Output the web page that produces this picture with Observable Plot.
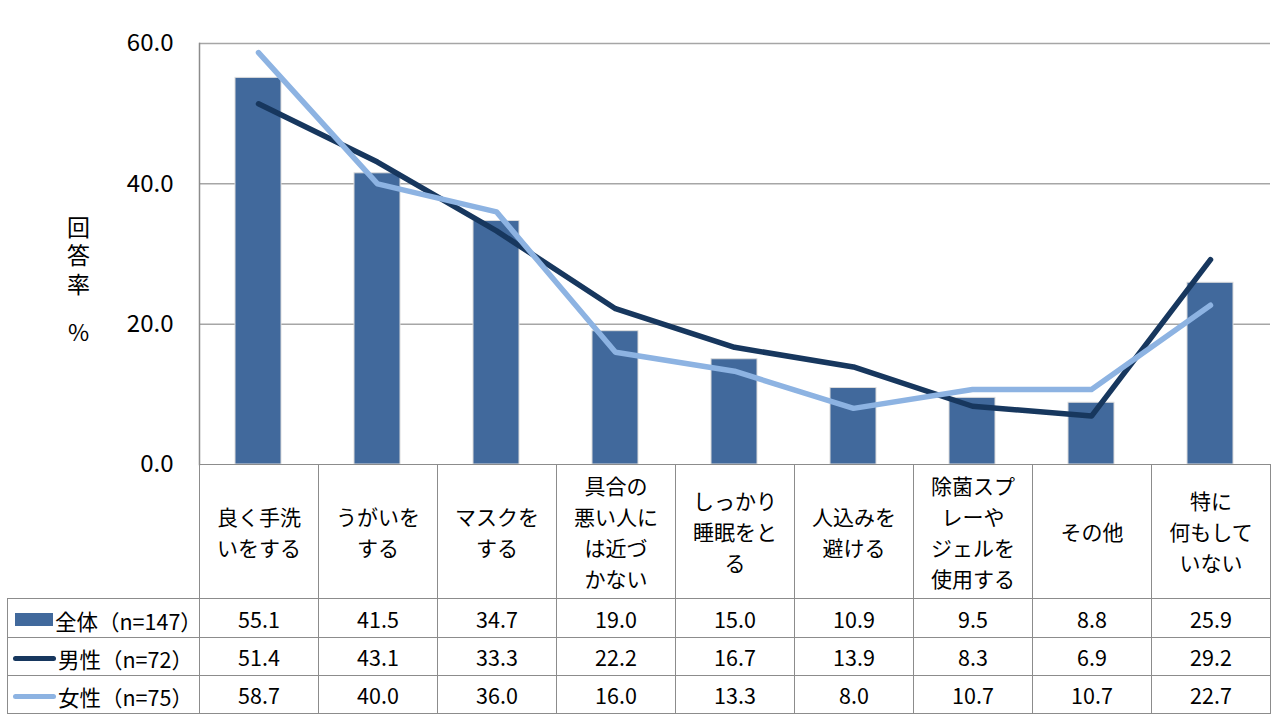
<!DOCTYPE html>
<html><head><meta charset="utf-8">
<script src="https://cdn.jsdelivr.net/npm/d3@7"></script>
<script src="https://cdn.jsdelivr.net/npm/@observablehq/plot@0.6"></script>
<style>
  html,body{margin:0;padding:0;background:#fff;}
  #wrap{position:relative;width:1280px;height:723px;overflow:hidden;font-family:"Noto Sans CJK JP","Noto Sans",sans-serif;color:#000;}
  #chart{position:absolute;left:0;top:0;}
  table{position:absolute;border-collapse:collapse;table-layout:fixed;font-family:"Noto Sans CJK JP",sans-serif;}
  td{border:1.5px solid #8c8c8c;text-align:center;padding:0;font-size:21.5px;}
  td.hdr{font-size:21px;line-height:31px;vertical-align:middle;}
  td.blank{border-top:none;border-left:none;border-bottom:1.5px solid #8c8c8c;}
  td.lab{text-align:left;padding-left:6px;white-space:nowrap;font-size:21.5px;}
  .sw{display:inline-block;vertical-align:middle;margin-right:2px;}
</style></head>
<body><div id="wrap"><div id="chart"></div></div>
<script>
const categories = ["良く手洗\nいをする","うがいを\nする","マスクを\nする","具合の\n悪い人に\nは近づ\nかない","しっかり\n睡眠をと\nる","人込みを\n避ける","除菌スプ\nレーや\nジェルを\n使用する","その他","特に\n何もして\nいない"];
const totalValues = [55.1,41.5,34.7,19.0,15.0,10.9,9.5,8.8,25.9];
const maleValues  = [51.4,43.1,33.3,22.2,16.7,13.9,8.3,6.9,29.2];
const femaleValues= [58.7,40.0,36.0,16.0,13.3,8.0,10.7,10.7,22.7];
const seriesNames = ["全体（n=147）","男性（n=72）","女性（n=75）"];
const yTicks = [0,20,40,60];
const yLabel = "回答率";
const yUnit = "%";

const colors = {total:"#41699c", male:"#17375e", female:"#8db3e2"};
const data = categories.map((c,i)=>({cat:c,total:totalValues[i],male:maleValues[i],female:femaleValues[i]}));

const chart = Plot.plot({
  width:1280, height:465,
  marginLeft:199, marginRight:10, marginTop:43, marginBottom:1,
  style:{fontFamily:'"Noto Sans CJK JP",sans-serif', fontSize:"24px", color:"#000", background:"#fff", overflow:"visible"},
  x:{type:"band", domain:categories, paddingInner:0.61, paddingOuter:0.305, axis:null},
  y:{domain:[0,60], ticks:yTicks, tickFormat:d=>d.toFixed(1), tickSize:0, tickPadding:26, label:null},
  marks:[
    Plot.gridY(yTicks.filter(d=>d>0), {stroke:"#a6a6a6", strokeOpacity:1, strokeWidth:1.5}),
    Plot.frame({anchor:"left", stroke:"#8c8c8c", strokeWidth:1.5}),
    Plot.barY(data, {x:"cat", y:"total", fill:colors.total, stroke:"#dcdcdc", strokeWidth:1}),
    Plot.line(data, {x:"cat", y:"male", stroke:colors.male, strokeWidth:5.5, strokeLinecap:"round", strokeLinejoin:"round"}),
    Plot.line(data, {x:"cat", y:"female", stroke:colors.female, strokeWidth:5.5, strokeLinecap:"round", strokeLinejoin:"round"}),
    Plot.text([yLabel], {frameAnchor:"left", dx:-121, dy:-3, textAnchor:"middle", fontSize:23, className:"ylab"}),
    Plot.text([yUnit], {frameAnchor:"left", dx:-121, dy:80, textAnchor:"middle", fontSize:23})
  ]
});
d3.select(chart).selectAll(".ylab text")
  .style("writing-mode","vertical-rl").style("letter-spacing","5.5px").attr("dy",null);
document.getElementById("chart").appendChild(chart);

// data table beneath, aligned to the chart's x scale
const xs = chart.scale("x");
const step = xs.step;
const left0 = 199;
const labelW = left0 - 7;
const wrap = d3.select("#wrap");
const table = wrap.append("table").style("left","7px").style("top","464px")
  .style("width",(labelW + step*categories.length)+"px");
const cg = table.append("colgroup");
cg.append("col").style("width",labelW+"px");
categories.forEach(()=>cg.append("col").style("width",step+"px"));

const hr = table.append("tr").style("height","134px");
hr.append("td").attr("class","blank");
categories.forEach(c=>hr.append("td").attr("class","hdr").html(c.split("\n").join("<br>")));

const rows = [
  {name:seriesNames[0], vals:totalValues, key:"total"},
  {name:seriesNames[1], vals:maleValues, key:"male"},
  {name:seriesNames[2], vals:femaleValues, key:"female"}
];
rows.forEach((r,i)=>{
  const tr = table.append("tr").style("height", (i===0?39:38)+"px");
  const td = tr.append("td").attr("class","lab");
  if (r.key==="total") {
    td.append("span").attr("class","sw").style("width","38px").style("height","13px").style("background",colors.total).style("margin-left","1px");
  } else {
    td.append("span").attr("class","sw").style("width","43px").style("height","5px").style("border-radius","3px").style("background",colors[r.key]).style("margin-left","-1px");
  }
  td.append("span").style("vertical-align","middle").text(r.name);
  r.vals.forEach(v=>tr.append("td").text(v.toFixed(1)));
});
</script></body></html>
